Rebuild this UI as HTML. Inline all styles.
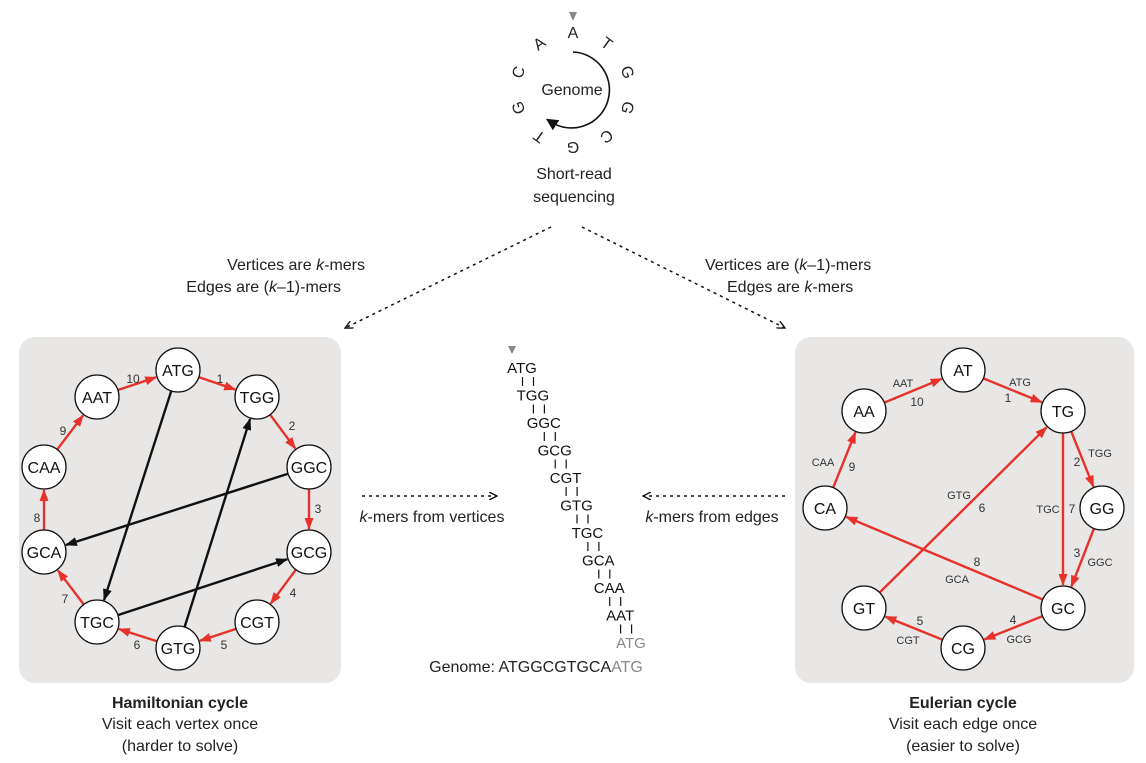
<!DOCTYPE html>
<html><head><meta charset="utf-8"><style>
html,body{margin:0;padding:0;background:#fff}
svg{display:block;font-family:"Liberation Sans",sans-serif}
</style></head><body>
<svg id="s" width="1146" height="763" viewBox="0 0 1146 763" xmlns="http://www.w3.org/2000/svg">
<defs>
<marker id="ar" markerWidth="12" markerHeight="9" refX="11" refY="4.5" orient="auto" markerUnits="userSpaceOnUse"><path d="M0,0 L12,4.5 L0,9 z" fill="#e8312b"/></marker>
<marker id="ab" markerWidth="12" markerHeight="9" refX="11" refY="4.5" orient="auto" markerUnits="userSpaceOnUse"><path d="M0,0 L12,4.5 L0,9 z" fill="#111"/></marker>
<marker id="ad" markerWidth="9" markerHeight="8" refX="8" refY="4" orient="auto" markerUnits="userSpaceOnUse"><path d="M0,0 L8,4 L0,8" fill="none" stroke="#111" stroke-width="1.4"/></marker>
<marker id="ak" markerWidth="12" markerHeight="12" refX="6" refY="6" orient="auto" markerUnits="userSpaceOnUse"><path d="M0,0 L12,6 L0,12 z" fill="#111"/></marker>
</defs>
<rect x="19" y="337" width="322" height="346" rx="16" fill="#e8e7e6"/>
<rect x="795" y="337" width="339" height="346" rx="16" fill="#e8e7e6"/>
<g id="top">
<path d="M569,12 L577,12 L573,21 z" fill="#888"/>
<path d="M573,52 A38,38 0 1 1 551,122" fill="none" stroke="#111" stroke-width="1.6" marker-end="url(#ak)"/>
<text x="572" y="95" font-size="16" text-anchor="middle" fill="#222">Genome</text>
<text x="574" y="179" font-size="16" text-anchor="middle" fill="#222">Short-read</text>
<text x="574" y="202" font-size="16" text-anchor="middle" fill="#222">sequencing</text>
</g>
<g stroke="#111" stroke-width="1.5" stroke-dasharray="3,4" fill="none">
<line x1="551" y1="227" x2="345" y2="328" marker-end="url(#ad)"/>
<line x1="582" y1="227" x2="785" y2="328" marker-end="url(#ad)"/>
<line x1="362" y1="496" x2="497" y2="496" marker-end="url(#ad)"/>
<line x1="785" y1="496" x2="643" y2="496" marker-end="url(#ad)"/>
</g>
<g font-size="16" fill="#222">
<text x="365" y="270" text-anchor="end">Vertices are <tspan font-style="italic">k</tspan>-mers</text>
<text x="341" y="292" text-anchor="end">Edges are (<tspan font-style="italic">k</tspan>–1)-mers</text>
<text x="705" y="270">Vertices are (<tspan font-style="italic">k</tspan>–1)-mers</text>
<text x="727" y="292">Edges are <tspan font-style="italic">k</tspan>-mers</text>
<text x="432" y="522" text-anchor="middle"><tspan font-style="italic">k</tspan>-mers from vertices</text>
<text x="712" y="522" text-anchor="middle"><tspan font-style="italic">k</tspan>-mers from edges</text>
<text x="180" y="708" text-anchor="middle" font-weight="bold">Hamiltonian cycle</text>
<text x="180" y="729" text-anchor="middle">Visit each vertex once</text>
<text x="180" y="751" text-anchor="middle">(harder to solve)</text>
<text x="963" y="708" text-anchor="middle" font-weight="bold">Eulerian cycle</text>
<text x="963" y="729" text-anchor="middle">Visit each edge once</text>
<text x="963" y="751" text-anchor="middle">(easier to solve)</text>
<text x="536" y="672" text-anchor="middle">Genome: ATGGCGTGCA<tspan fill="#888">ATG</tspan></text>
</g>
<path d="M508,346 L516,346 L512,354 z" fill="#888"/>
<g id="g"></g>
</svg>
<script>
const NS="http://www.w3.org/2000/svg";
const G=document.getElementById('g');
const genomeLetters=["A","T","G","G","C","G","T","G","C","A"];
const hamNodes=["ATG","TGG","GGC","GCG","CGT","GTG","TGC","GCA","CAA","AAT"];
const hamX=[178,257,309,309,257,178,97,44,44,97];
const hamY=[370,397,467,552,622,648,622,552,467,397];
const hamOrderLabels=["1","2","3","4","5","6","7","8","9","10"];
const hamLabelX=[220,292,318,293,224,137,65,37,63,133];
const hamLabelY=[383,430,513,597,649,649,603,522,435,383];
const hamExtra=[[0,6],[5,1],[2,7],[6,3]];
const eulNodes=["AT","TG","GG","GC","CG","GT","CA","AA"];
const eulX=[963,1063,1102,1063,963,864,825,864];
const eulY=[370,411,508,608,648,608,508,411];
const eulEdges=[[0,1],[1,2],[2,3],[3,4],[4,5],[5,1],[1,3],[3,6],[6,7],[7,0]];
const eulEdgeNames=["ATG","TGG","GGC","GCG","CGT","GTG","TGC","GCA","CAA","AAT"];
const eulNameX=[1020,1100,1100,1019,908,959,1048,957,823,903];
const eulNameY=[386,457,566,643,644,499,513,583,466,387];
const eulNumX=[1008,1077,1077,1013,920,982,1072,977,852,917];
const eulNumY=[402,466,557,624,625,512,513,566,471,406];
const kmers=["ATG","TGG","GGC","GCG","CGT","GTG","TGC","GCA","CAA","AAT","ATG"];
function el(t,a,txt){const e=document.createElementNS(NS,t);for(const k in a)e.setAttribute(k,a[k]);if(txt!==undefined)e.textContent=txt;G.appendChild(e);return e;}
function edge(x1,y1,x2,y2,r,col,m){const dx=x2-x1,dy=y2-y1,L=Math.hypot(dx,dy),ux=dx/L,uy=dy/L;
 return el('line',{x1:x1+ux*r,y1:y1+uy*r,x2:x2-ux*(r+1),y2:y2-uy*(r+1),stroke:col,'stroke-width':2.4,'marker-end':m});}
for(let i=0;i<genomeLetters.length;i++){const a=i*36,rad=a*Math.PI/180;
 const x=573+58*Math.sin(rad),y=90-58*Math.cos(rad);
 const t=el('text',{x:x,y:y+6,'font-size':16,'text-anchor':'middle',fill:'#222',transform:`rotate(${a} ${x} ${y})`},genomeLetters[i]);
 
 }
for(let i=0;i<hamNodes.length;i++){const j=(i+1)%hamNodes.length;
 const e=edge(hamX[i],hamY[i],hamX[j],hamY[j],22,'#e8312b','url(#ar)');
 
 
 const t=el('text',{x:hamLabelX[i],y:hamLabelY[i],'font-size':12,'text-anchor':'middle',fill:'#333'},hamOrderLabels[i]);
 
 }
for(const [a,b] of hamExtra){const e=edge(hamX[a],hamY[a],hamX[b],hamY[b],22,'#111','url(#ab)');
 
 }
for(let i=0;i<hamNodes.length;i++){
 const c=el('circle',{cx:hamX[i],cy:hamY[i],r:22,fill:'#fff',stroke:'#111','stroke-width':1.3});
 
 
 const t=el('text',{x:hamX[i],y:hamY[i]+6,'font-size':16,'text-anchor':'middle',fill:'#111'},hamNodes[i]);
 
 }
for(let i=0;i<eulEdges.length;i++){const [a,b]=eulEdges[i];
 const e=edge(eulX[a],eulY[a],eulX[b],eulY[b],22,'#e8312b','url(#ar)');
 
 
 const t=el('text',{x:eulNameX[i],y:eulNameY[i],'font-size':11,'text-anchor':'middle',fill:'#333'},eulEdgeNames[i]);
 
 
 const n=el('text',{x:eulNumX[i],y:eulNumY[i],'font-size':12,'text-anchor':'middle',fill:'#333'},String(i+1));
 
 }
for(let i=0;i<eulNodes.length;i++){
 const c=el('circle',{cx:eulX[i],cy:eulY[i],r:22,fill:'#fff',stroke:'#111','stroke-width':1.3});
 
 
 const t=el('text',{x:eulX[i],y:eulY[i]+6,'font-size':16,'text-anchor':'middle',fill:'#111'},eulNodes[i]);
 
 }
for(let i=0;i<kmers.length;i++){const x=522+10.9*i,y=368+27.5*i;
 const t=el('text',{x:x,y:y+5,'font-size':15,'text-anchor':'middle',fill:i===kmers.length-1?'#888':'#111'},kmers[i]);
 
 
 if(i<kmers.length-1){for(const d of [-1,1]){const l=el('line',{x1:x+6+d*5.5,y1:y+9,x2:x+6+d*5.5,y2:y+18,stroke:'#111','stroke-width':1.2});
  
  }}}
</script>
</body></html>
